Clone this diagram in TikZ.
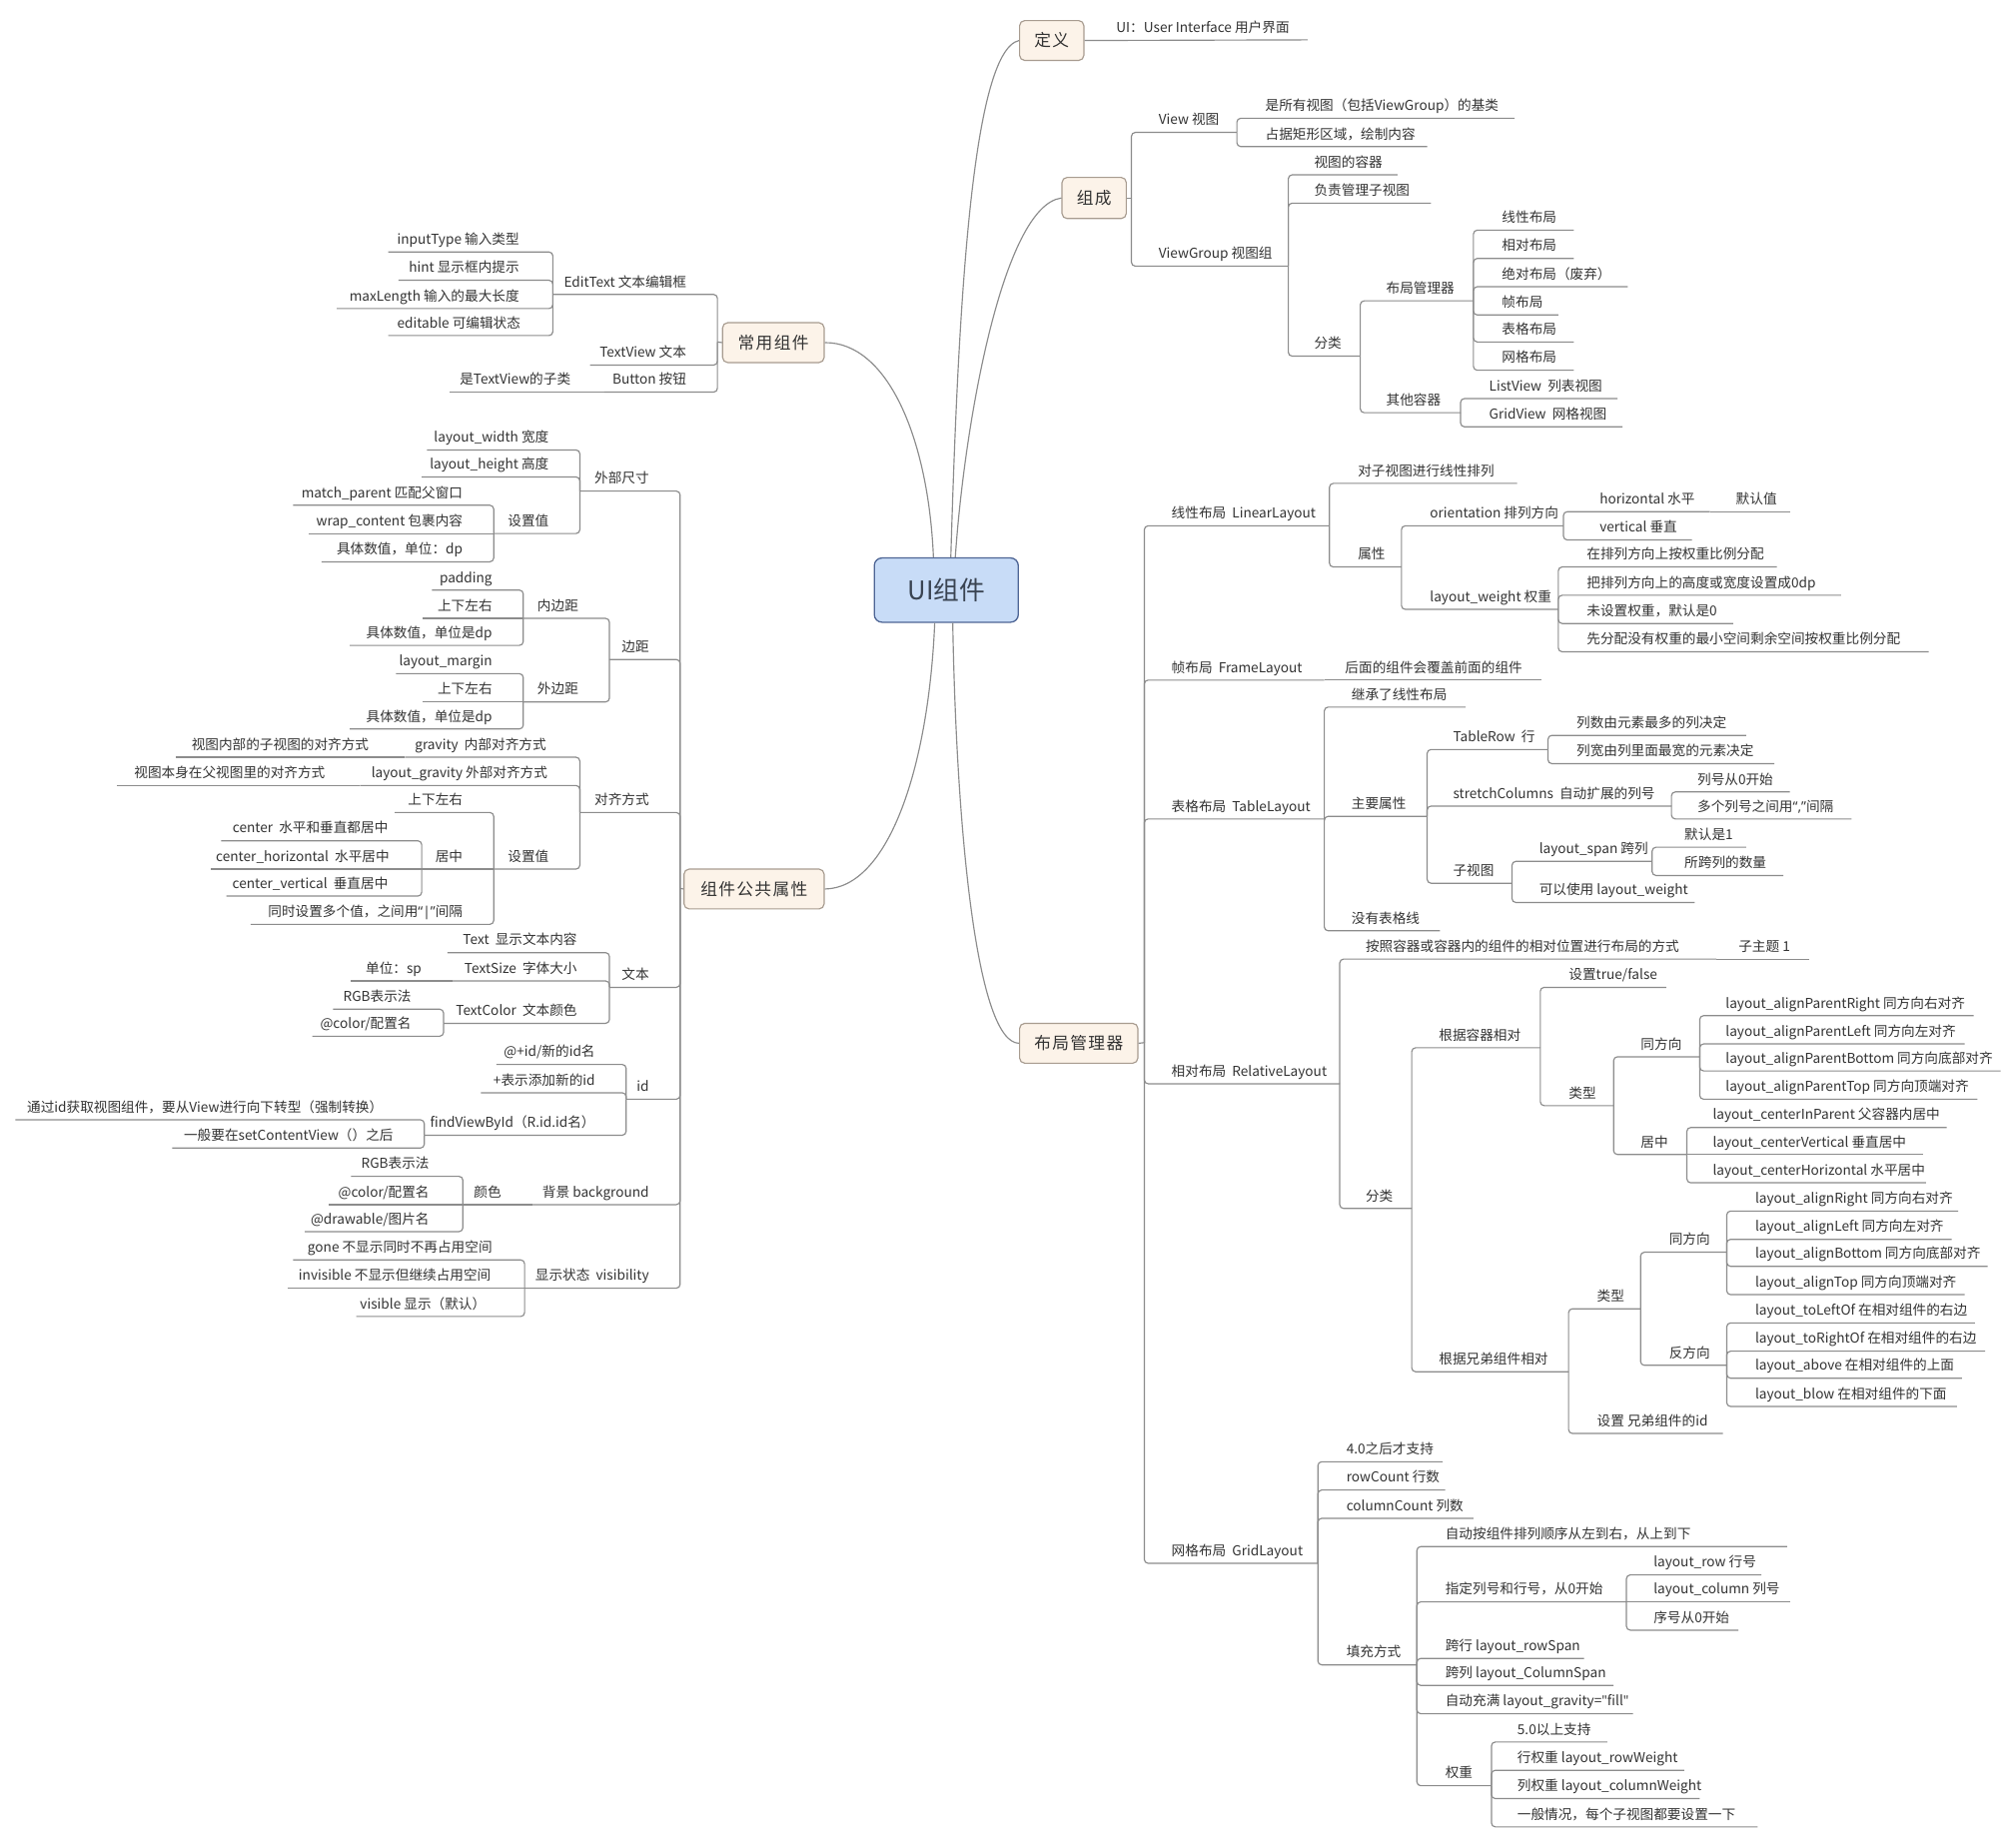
\documentclass[tikz,border=0pt]{standalone}
\usepackage{fontspec}
\setmainfont{Noto Sans CJK SC}
\newfontfamily\qf{Noto Sans}
\definecolor{tc}{HTML}{333333}
\definecolor{lc}{HTML}{8C8C8C}
\definecolor{bf}{HTML}{FCF3E9}
\definecolor{bd}{HTML}{A89C90}
\definecolor{cf}{HTML}{C8DCF7}
\definecolor{cd}{HTML}{4E6595}
\definecolor{ct}{HTML}{3A4452}
\tikzset{
  tp/.style={anchor=base west, inner sep=0pt, text=tc, font=\fontsize{10.6}{12}\selectfont},
  tpl/.style={tp, anchor=base east},
  ln/.style={draw=lc, line width=0.9pt, rounded corners=3pt},
  cv/.style={draw=lc, line width=0.9pt},
  br/.style={draw=bd, fill=bf, rounded corners=4pt, line width=0.9pt, text=tc, inner sep=0pt,
    font=\fontsize{13}{15}\selectfont\addfontfeatures{LetterSpace=8}},
  rootbox/.style={draw=cd, fill=cf, rounded corners=6pt, line width=1pt, text=ct, inner sep=0pt,
    minimum width=112pt, minimum height=50pt, font=\fontsize{20}{22}\selectfont}
}
\newcommand\tpR[5]{\node[tp] (#1) at (#2,#3-6) {#5}; \coordinate (#1-e) at (#4,#3);}
\newcommand\tpL[5]{\node[tpl] (#1) at (#2,#3-6) {#5}; \coordinate (#1-e) at (#4,#3);}
\newcommand\conn[2]{\draw[ln] (#1-e) |- (#2-e);}
\newcommand\conns[2]{\draw[ln] (#1-e) -- (#2-e);}
\begin{document}
\begin{tikzpicture}[x=1pt,y=-1pt]
\fill[white] (0,0) rectangle (1568,1433);
\useasboundingbox (0,0) rectangle (1568,1433);

% ---------- root and main branches ----------
\node[rootbox] (ui) at (736,459) {UI组件};
\node[br, minimum width=50pt, minimum height=31pt] (def) at (818,31.5) {定义};
\node[br, minimum width=50pt, minimum height=32pt] (zc) at (851,154) {组成};
\node[br, minimum width=79pt, minimum height=31pt] (cy) at (601.5,266.5) {常用组件};
\node[br, minimum width=109pt, minimum height=31pt] (gg) at (586.5,691.5) {组件公共属性};
\node[br, minimum width=92pt, minimum height=31pt] (bj) at (839,811.5) {布局管理器};

\draw[cv] (ui.north -| 739.5,0) .. controls (745,250) and (755,40) .. (def.west);
\draw[cv] (ui.north -| 743,0) .. controls (750,330) and (780,160) .. (zc.west);
\draw[cv] (ui.south -| 741,0) .. controls (744,650) and (760,811) .. (bj.west);
\draw[cv] (ui.north -| 726,0) .. controls (722,340) and (690,266) .. (cy.east);
\draw[cv] (ui.south -| 727,0) .. controls (722,600) and (690,691) .. (gg.east);

% ---------- 定义 ----------
\tpR{ui1}{868}{31}{1017}{UI：User Interface 用户界面}
\draw[ln] (def.east) -- (ui1-e);

% ---------- 组成 ----------
\coordinate (zc-e) at (880,154);
\draw[ln] (zc.east) -- (zc-e);
\tpR{view}{901}{103}{962}{View 视图}
\tpR{vg}{901}{207}{1002}{ViewGroup 视图组}
\tpR{v1}{984}{92}{1178}{是所有视图（包括ViewGroup）的基类}
\tpR{v2}{984}{114}{1110}{占据矩形区域，绘制内容}
\tpR{g1}{1022}{136}{1087}{视图的容器}
\tpR{g2}{1022}{158}{1113}{负责管理子视图}
\tpR{g3}{1022}{277}{1058}{分类}
\tpR{g31}{1078}{234}{1146}{布局管理器}
\tpR{g32}{1078}{321}{1136}{其他容器}
\tpR{l1}{1168}{179}{1224}{线性布局}
\tpR{l2}{1168}{201}{1224}{相对布局}
\tpR{l3}{1168}{223}{1266}{绝对布局（废弃）}
\tpR{l4}{1168}{245}{1212}{帧布局}
\tpR{l5}{1168}{266}{1224}{表格布局}
\tpR{l6}{1168}{288}{1224}{网格布局}
\tpR{o1}{1158}{310}{1258}{ListView\ \ 列表视图}
\tpR{o2}{1158}{332}{1262}{GridView\ \ 网格视图}
\conn{zc}{view}\conn{zc}{vg}
\conn{view}{v1}\conn{view}{v2}
\conn{vg}{g1}\conn{vg}{g2}\conn{vg}{g3}
\conn{g3}{g31}\conn{g3}{g32}
\conn{g31}{l1}\conn{g31}{l2}\conn{g31}{l3}\conn{g31}{l4}\conn{g31}{l5}\conn{g31}{l6}
\conn{g32}{o1}\conn{g32}{o2}

% ---------- 布局管理器 ----------
\coordinate (bj-e) at (890,811);
\draw[ln] (bj.east) -- (bj-e);
\tpR{lin}{911}{409}{1034}{线性布局\ \ LinearLayout}
\tpR{frm}{911}{529}{1030}{帧布局\ \ FrameLayout}
\tpR{frm1}{1046}{529}{1199}{后面的组件会覆盖前面的组件}
\tpR{tab}{911}{637}{1030}{表格布局\ \ TableLayout}
\tpR{rel}{911}{843}{1042}{相对布局\ \ RelativeLayout}
\tpR{grd}{911}{1216}{1025}{网格布局\ \ GridLayout}
\conn{bj}{lin}\conn{bj}{frm}\conn{bj}{tab}\conn{bj}{rel}\conn{bj}{grd}
\conns{frm}{frm1}

% linear
\tpR{lin1}{1056}{376}{1180}{对子视图进行线性排列}
\tpR{lin2}{1056}{441}{1090}{属性}
\tpR{ori}{1112}{409}{1216}{orientation 排列方向}
\tpR{lw}{1112}{474}{1212}{layout\_weight 权重}
\tpR{hor}{1244}{398}{1330}{horizontal 水平}
\tpR{hor1}{1350}{398}{1392}{默认值}
\tpR{ver}{1244}{420}{1316}{vertical 垂直}
\tpR{lw1}{1234}{441}{1382}{在排列方向上按权重比例分配}
\tpR{lw2}{1234}{463}{1432}{把排列方向上的高度或宽度设置成0dp}
\tpR{lw3}{1234}{485}{1348}{未设置权重，默认是0}
\tpR{lw4}{1234}{507}{1500}{先分配没有权重的最小空间剩余空间按权重比例分配}
\conn{lin}{lin1}\conn{lin}{lin2}
\conn{lin2}{ori}\conn{lin2}{lw}
\conn{ori}{hor}\conn{ori}{ver}\conns{hor}{hor1}
\conn{lw}{lw1}\conn{lw}{lw2}\conn{lw}{lw3}\conn{lw}{lw4}

% table
\tpR{tab1}{1051}{550}{1140}{继承了线性布局}
\tpR{tab2}{1051}{635}{1110}{主要属性}
\tpR{tab3}{1051}{724}{1120}{没有表格线}
\tpR{tr}{1130}{583}{1204}{TableRow\ \ 行}
\tpR{sc}{1130}{627}{1300}{stretchColumns\ \ 自动扩展的列号}
\tpR{sv}{1130}{687}{1176}{子视图}
\tpR{tr1}{1226}{572}{1358}{列数由元素最多的列决定}
\tpR{tr2}{1226}{594}{1380}{列宽由列里面最宽的元素决定}
\tpR{sc1}{1320}{616}{1392}{列号从0开始}
\tpR{sc2}{1320}{637}{1440}{多个列号之间用{\qf “,”}间隔}
\tpR{spn}{1197}{670}{1285}{layout\_span 跨列}
\tpR{sv2}{1197}{702}{1318}{可以使用 layout\_weight}
\tpR{sp1}{1310}{659}{1358}{默认是1}
\tpR{sp2}{1310}{681}{1387}{所跨列的数量}
\conn{tab}{tab1}\conn{tab}{tab2}\conn{tab}{tab3}
\conn{tab2}{tr}\conn{tab2}{sc}\conn{tab2}{sv}
\conn{tr}{tr1}\conn{tr}{tr2}
\conn{sc}{sc1}\conn{sc}{sc2}
\conn{sv}{spn}\conn{sv}{sv2}
\conn{spn}{sp1}\conn{spn}{sp2}

% relative
\tpR{rel1}{1062}{746}{1335}{按照容器或容器内的组件的相对位置进行布局的方式}
\tpR{rel1a}{1352}{746}{1407}{子主题 1}
\tpR{rel2}{1062}{940}{1098}{分类}
\tpR{rc}{1119}{815}{1198}{根据容器相对}
\tpR{rs}{1119}{1067}{1220}{根据兄弟组件相对}
\tpR{rc1}{1220}{768}{1296}{设置true/false}
\tpR{rc2}{1220}{860}{1255}{类型}
\tpR{rct1}{1276}{822}{1322}{同方向}
\tpR{rct2}{1276}{898}{1312}{居中}
\tpR{a1}{1342}{790}{1535}{layout\_alignParentRight 同方向右对齐}
\tpR{a2}{1342}{812}{1528}{layout\_alignParentLeft 同方向左对齐}
\tpR{a3}{1342}{833}{1556}{layout\_alignParentBottom 同方向底部对齐}
\tpR{a4}{1342}{855}{1538}{layout\_alignParentTop 同方向顶端对齐}
\tpR{c1}{1332}{877}{1514}{layout\_centerInParent 父容器内居中}
\tpR{c2}{1332}{898}{1496}{layout\_centerVertical 垂直居中}
\tpR{c3}{1332}{920}{1498}{layout\_centerHorizontal 水平居中}
\tpR{rs1}{1242}{1018}{1276}{类型}
\tpR{rs2}{1242}{1115}{1340}{设置 兄弟组件的id}
\tpR{rst1}{1298}{974}{1343}{同方向}
\tpR{rst2}{1298}{1062}{1343}{反方向}
\tpR{b1}{1365}{942}{1523}{layout\_alignRight 同方向右对齐}
\tpR{b2}{1365}{964}{1518}{layout\_alignLeft 同方向左对齐}
\tpR{b3}{1365}{985}{1546}{layout\_alignBottom 同方向底部对齐}
\tpR{b4}{1365}{1007}{1528}{layout\_alignTop 同方向顶端对齐}
\tpR{d1}{1365}{1029}{1536}{layout\_toLeftOf 在相对组件的右边}
\tpR{d2}{1365}{1051}{1544}{layout\_toRightOf 在相对组件的右边}
\tpR{d3}{1365}{1072}{1526}{layout\_above 在相对组件的上面}
\tpR{d4}{1365}{1094}{1522}{layout\_blow 在相对组件的下面}
\conn{rel}{rel1}\conn{rel}{rel2}\conns{rel1}{rel1a}
\conn{rel2}{rc}\conn{rel2}{rs}
\conn{rc}{rc1}\conn{rc}{rc2}
\conn{rc2}{rct1}\conn{rc2}{rct2}
\conn{rct1}{a1}\conn{rct1}{a2}\conn{rct1}{a3}\conn{rct1}{a4}
\conn{rct2}{c1}\conns{rct2}{c2}\conn{rct2}{c3}
\conn{rs}{rs1}\conn{rs}{rs2}
\conn{rs1}{rst1}\conn{rs1}{rst2}
\conn{rst1}{b1}\conn{rst1}{b2}\conn{rst1}{b3}\conn{rst1}{b4}
\conn{rst2}{d1}\conn{rst2}{d2}\conn{rst2}{d3}\conn{rst2}{d4}

% grid
\tpR{gr1}{1047}{1137}{1122}{4.0之后才支持}
\tpR{gr2}{1047}{1159}{1124}{rowCount 行数}
\tpR{gr3}{1047}{1181}{1146}{columnCount 列数}
\tpR{gr4}{1047}{1295}{1102}{填充方式}
\tpR{f1}{1124}{1203}{1390}{自动按组件排列顺序从左到右，从上到下}
\tpR{f2}{1124}{1246}{1265}{指定列号和行号，从0开始}
\tpR{f3}{1124}{1290}{1232}{跨行 layout\_rowSpan}
\tpR{f4}{1124}{1311}{1255}{跨列 layout\_ColumnSpan}
\tpR{f5}{1124}{1333}{1270}{自动充满 layout\_gravity={\qf"}fill{\qf"}}
\tpR{f6}{1124}{1389}{1160}{权重}
\tpR{f21}{1286}{1225}{1370}{layout\_row 行号}
\tpR{f22}{1286}{1246}{1392}{layout\_column 列号}
\tpR{f23}{1286}{1268}{1352}{序号从0开始}
\tpR{w1}{1180}{1355}{1250}{5.0以上支持}
\tpR{w2}{1180}{1377}{1310}{行权重 layout\_rowWeight}
\tpR{w3}{1180}{1399}{1322}{列权重 layout\_columnWeight}
\tpR{w4}{1180}{1421}{1367}{一般情况，每个子视图都要设置一下}
\conn{grd}{gr1}\conn{grd}{gr2}\conn{grd}{gr3}\conn{grd}{gr4}
\conn{gr4}{f1}\conn{gr4}{f2}\conn{gr4}{f3}\conn{gr4}{f4}\conn{gr4}{f5}\conn{gr4}{f6}
\conn{f2}{f21}\conns{f2}{f22}\conn{f2}{f23}
\conn{f6}{w1}\conn{f6}{w2}\conn{f6}{w3}\conn{f6}{w4}

% ---------- 常用组件 ----------
\coordinate (cy-e) at (558,266);
\draw[ln] (cy.west) -- (cy-e);
\tpL{et}{534}{229}{430}{EditText 文本编辑框}
\tpL{tv}{534}{284}{459}{TextView 文本}
\tpL{bt}{534}{305}{470}{Button 按钮}
\tpL{bt1}{444}{305}{350}{是TextView的子类}
\tpL{et1}{404}{196}{302}{inputType 输入类型}
\tpL{et2}{404}{218}{310}{hint 显示框内提示}
\tpL{et3}{404}{240}{262}{maxLength 输入的最大长度}
\tpL{et4}{405}{261}{302}{editable 可编辑状态}
\conn{cy}{et}\conn{cy}{tv}\conn{cy}{bt}\conns{bt}{bt1}
\conn{et}{et1}\conn{et}{et2}\conn{et}{et3}\conn{et}{et4}

% ---------- 组件公共属性 ----------
\coordinate (gg-e) at (529,691);
\draw[ln] (gg.west) -- (gg-e);
\tpL{wb}{505}{382}{451}{外部尺寸}
\tpL{bjj}{505}{513}{474}{边距}
\tpL{dq}{505}{632}{451}{对齐方式}
\tpL{wen}{505}{768}{474}{文本}
\tpL{idn}{505}{855}{487}{id}
\tpL{bg}{505}{937}{414}{背景 background}
\tpL{bgc}{390}{937}{360}{颜色}
\tpL{vis}{505}{1002}{408}{显示状态\ \ visibility}
\conn{gg}{wb}\conn{gg}{bjj}\conn{gg}{dq}\conn{gg}{wen}\conn{gg}{idn}\conn{gg}{bg}\conn{gg}{vis}
\conns{bg}{bgc}

% 外部尺寸
\tpL{wb1}{427}{350}{332}{layout\_width 宽度}
\tpL{wb2}{427}{371}{328}{layout\_height 高度}
\tpL{wb3}{427}{415}{384}{设置值}
\tpL{wb31}{360}{393}{228}{match\_parent 匹配父窗口}
\tpL{wb32}{360}{415}{240}{wrap\_content 包裹内容}
\tpL{wb33}{360}{437}{250}{具体数值，单位：dp}
\conn{wb}{wb1}\conn{wb}{wb2}\conn{wb}{wb3}
\conn{wb3}{wb31}\conns{wb3}{wb32}\conn{wb3}{wb33}

% 边距
\tpL{nb}{450}{481}{407}{内边距}
\tpL{wbj}{450}{546}{407}{外边距}
\tpL{nb1}{383}{459}{336}{padding}
\tpL{nb2}{383}{481}{329}{上下左右}
\tpL{nb3}{383}{502}{272}{具体数值，单位是dp}
\tpL{wbj1}{383}{524}{308}{layout\_margin}
\tpL{wbj2}{383}{546}{329}{上下左右}
\tpL{wbj3}{383}{567}{272}{具体数值，单位是dp}
\conn{bjj}{nb}\conn{bjj}{wbj}
\conn{nb}{nb1}\conns{nb}{nb2}\conn{nb}{nb3}
\conn{wbj}{wbj1}\conns{wbj}{wbj2}\conn{wbj}{wbj3}

% 对齐方式
\tpL{gv}{425}{589}{315}{gravity\ \ 内部对齐方式}
\tpL{gv1}{287}{589}{137}{视图内部的子视图的对齐方式}
\tpL{lg}{426}{611}{280}{layout\_gravity 外部对齐方式}
\tpL{lg1}{253}{611}{91}{视图本身在父视图里的对齐方式}
\tpL{dqs}{427}{676}{384}{设置值}
\tpL{s1}{360}{632}{307}{上下左右}
\tpL{s2}{360}{676}{328}{居中}
\tpL{s3}{360}{719}{195}{同时设置多个值，之间用{\qf “|”}间隔}
\tpL{s21}{302}{654}{172}{center\ \ 水平和垂直都居中}
\tpL{s22}{303}{676}{164}{center\_horizontal\ \ 水平居中}
\tpL{s23}{302}{697}{176}{center\_vertical\ \ 垂直居中}
\conn{dq}{gv}\conn{dq}{lg}\conn{dq}{dqs}
\conns{gv}{gv1}\conns{lg}{lg1}
\conn{dqs}{s1}\conns{dqs}{s2}\conn{dqs}{s3}
\conn{s2}{s21}\conns{s2}{s22}\conn{s2}{s23}

% 文本
\tpL{t1}{449}{741}{348}{Text\ \ 显示文本内容}
\tpL{t2}{449}{763}{352}{TextSize\ \ 字体大小}
\tpL{t21}{328}{763}{273}{单位：sp}
\tpL{t3}{449}{796}{345}{TextColor\ \ 文本颜色}
\tpL{t31}{320}{785}{259}{RGB表示法}
\tpL{t32}{320}{806}{243}{@color/配置名}
\conn{wen}{t1}\conn{wen}{t2}\conn{wen}{t3}\conns{t2}{t21}
\conn{t3}{t31}\conn{t3}{t32}

% id
\tpL{i1}{463}{828}{386}{@+id/新的id名}
\tpL{i2}{463}{850}{374}{+表示添加新的id}
\tpL{i3}{463}{883}{330}{findViewById（R.id.id名）}
\tpL{i31}{298}{871}{12}{通过id获取视图组件，要从View进行向下转型（强制转换）}
\tpL{i32}{306}{893}{134}{一般要在setContentView（）之后}
\conn{idn}{i1}\conn{idn}{i2}\conn{idn}{i3}
\conn{i3}{i31}\conn{i3}{i32}

% 背景
\tpL{bc1}{334}{915}{273}{RGB表示法}
\tpL{bc2}{334}{937}{256}{@color/配置名}
\tpL{bc3}{334}{958}{237}{@drawable/图片名}
\conn{bgc}{bc1}\conns{bgc}{bc2}\conn{bgc}{bc3}

% 显示状态
\tpL{vs1}{383}{980}{228}{gone 不显示同时不再占用空间}
\tpL{vs2}{382}{1002}{224}{invisible 不显示但继续占用空间}
\tpL{vs3}{378}{1024}{277}{visible 显示（默认）}
\conn{vis}{vs1}\conns{vis}{vs2}\conn{vis}{vs3}

\end{tikzpicture}
\end{document}
